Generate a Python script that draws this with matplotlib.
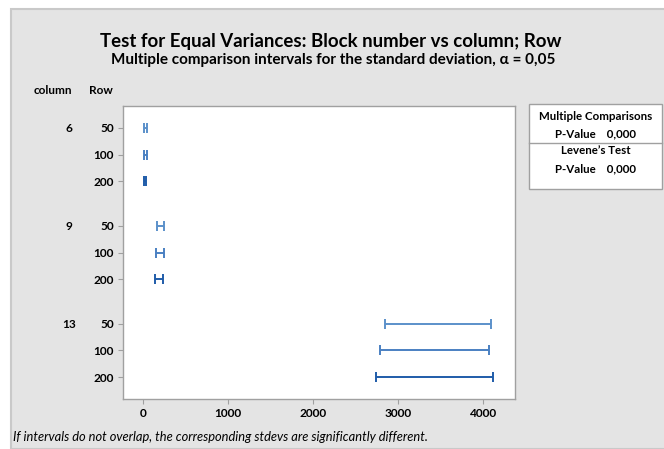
import matplotlib
matplotlib.use("Agg")
import matplotlib.pyplot as plt
from matplotlib.patches import Rectangle
import matplotlib.transforms as mtransforms

plt.rcParams['font.family'] = ['Lato', 'DejaVu Sans']

columns = ["6", "9", "13"]
rows = ["50", "100", "200"]
lower = [[15, 15, 10], [168, 152, 141], [2847, 2792, 2745]]
upper = [[50, 50, 30], [247, 250, 230], [4094, 4067, 4121]]
xticks = [0, 1000, 2000, 3000, 4000]
row_colors = ["#5b90ca", "#4a80c2", "#1f5ca9"]

fig = plt.figure(figsize=(6.64, 4.49), dpi=100)
W, H = 664, 449
fig.patches.append(Rectangle((11 / W, 0), 1, 1 - 9 / H, transform=fig.transFigure,
                             facecolor="#e4e4e4", edgecolor="#c9c9c9", linewidth=1.5, zorder=-10))

ax = fig.add_axes([123 / W, 1 - 399 / H, (515 - 123) / W, (399 - 106) / H])
ax.set_facecolor("white")

gap = 0.67
ypos = []
for i in range(len(columns)):
    for j in range(len(rows)):
        y = i * (len(rows) + gap) + j
        ypos.append(y)
        lo, hi = lower[i][j], upper[i][j]
        ax.errorbar([(lo + hi) / 2], [y], xerr=[[(hi - lo) / 2], [(hi - lo) / 2]], fmt="none",
                    ecolor=row_colors[j], elinewidth=1.4, capsize=3.6, capthick=1.4)

ymax = ypos[-1]
ax.set_ylim(ymax + 0.82, -0.82)
ax.set_xlim(-235, 4376)
ax.set_xticks(xticks)
ax.set_xticklabels([str(t) for t in xticks], fontsize=8.6, fontweight="bold")
ax.set_yticks(ypos)
ax.set_yticklabels(rows * len(columns), fontsize=8.6, fontweight="bold")
ax.tick_params(axis="both", color="#a0a0a0", length=3.5, width=0.8, pad=3)
for s in ax.spines.values():
    s.set_color("#a0a0a0")
    s.set_linewidth(1.0)

# column labels
blend = mtransforms.blended_transform_factory(fig.transFigure, ax.transData)
for i, c in enumerate(columns):
    y = ypos[i * len(rows)]
    ax.text(69 / W, y, c, transform=blend, ha="center", va="center_baseline",
            fontsize=8.6, fontweight="bold")

fig.text(53 / W, 1 - 90 / H, "column", ha="center", va="center", fontsize=8.5, fontweight="bold")
fig.text(101 / W, 1 - 90 / H, "Row", ha="center", va="center", fontsize=8.5, fontweight="bold")

fig.text(331 / W, 1 - 41 / H, "Test for Equal Variances: Block number vs column; Row",
         ha="center", va="center", fontsize=13.4, fontweight="bold")
fig.text(333 / W, 1 - 60 / H, "Multiple comparison intervals for the standard deviation, α = 0,05",
         ha="center", va="center", fontsize=11, fontweight="bold")

fig.text(13 / W, 1 - 437 / H,
         "If intervals do not overlap, the corresponding stdevs are significantly different.",
         ha="left", va="center", fontsize=9.3, style="italic")

# right box
bx0, bx1, by0, by1 = 529, 662, 104, 189
fig.patches.append(Rectangle((bx0 / W, 1 - by1 / H), (bx1 - bx0) / W, (by1 - by0) / H,
                             transform=fig.transFigure, facecolor="white",
                             edgecolor="#a0a0a0", linewidth=1.0))
fig.add_artist(plt.Line2D([bx0 / W, bx1 / W], [1 - 143 / H, 1 - 143 / H],
                          transform=fig.transFigure, color="#a0a0a0", linewidth=1.0))
cx = (bx0 + bx1) / 2
fig.text(cx / W, 1 - 116 / H, "Multiple Comparisons", ha="center", va="center", fontsize=8.3, fontweight="bold")
fig.text(cx / W, 1 - 134 / H, "P-Value    0,000", ha="center", va="center", fontsize=8.3, fontweight="bold")
fig.text(cx / W, 1 - 151 / H, "Levene’s Test", ha="center", va="center", fontsize=8.3, fontweight="bold")
fig.text(cx / W, 1 - 169 / H, "P-Value    0,000", ha="center", va="center", fontsize=8.3, fontweight="bold")

fig.savefig("out.png", dpi=100)
